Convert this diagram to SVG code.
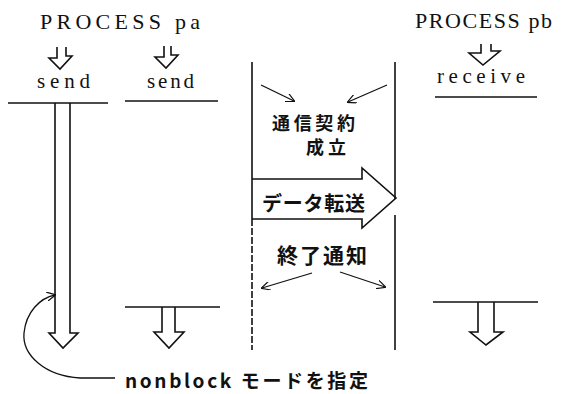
<svg xmlns="http://www.w3.org/2000/svg" width="574" height="394" viewBox="0 0 574 394">
<style>
.ln{fill:none;stroke:#111;stroke-width:1.6;stroke-linejoin:miter}
.thin{fill:none;stroke:#111;stroke-width:1.3}
.serif{font-family:"Liberation Serif","DejaVu Serif",serif;fill:#111}
.jp{font-family:"Noto Sans CJK JP","Noto Sans",sans-serif;fill:#111;font-weight:bold}
</style>
<defs>
<marker id="open" viewBox="0 0 10 10" refX="9" refY="5" markerWidth="9" markerHeight="9" orient="auto" markerUnits="userSpaceOnUse">
<path d="M0,0 L10,5 L0,10" fill="none" stroke="#111" stroke-width="1.3"/>
</marker>
</defs>
<rect width="574" height="394" fill="#fff"/>
<g id="process-pa">
<text class="serif" x="40" y="29" font-size="22" textLength="160" lengthAdjust="spacing">PROCESS pa</text>
</g>
<g id="process-pb">
<text class="serif" x="415" y="28" font-size="22" textLength="137" lengthAdjust="spacing">PROCESS pb</text>
</g>
<g id="send1">
<path class="ln" d="M57,47 V58 H49 L60,69 L72,56 H66 V47"/>
<text class="serif" x="37" y="88" font-size="21" textLength="53" lengthAdjust="spacing">send</text>
<line class="ln" x1="8" y1="103" x2="108" y2="103"/>
<path class="ln" d="M55,103 V333 H49 L63,348 L78,333 H70 V103"/>
</g>
<g id="send2">
<path class="ln" d="M164,46 V57 H155 L166,68 L178,55 H171 V46"/>
<text class="serif" x="147" y="88" font-size="21" textLength="47" lengthAdjust="spacing">send</text>
<line class="ln" x1="125" y1="101" x2="218" y2="101"/>
<line class="ln" x1="125" y1="307" x2="220" y2="307"/>
<path class="ln" d="M162,307 V332 H154 L169,348 L184,332 H175 V307"/>
</g>
<g id="receive">
<path class="ln" d="M481,44 V53 H469 L483,65 L500,51 H491 V44"/>
<text class="serif" x="437" y="83" font-size="21" textLength="88" lengthAdjust="spacing">receive</text>
<line class="ln" x1="435" y1="97" x2="537" y2="97"/>
<line class="ln" x1="433" y1="302" x2="538" y2="302"/>
<path class="ln" d="M478,302 V332 H470 L486,345 L503,332 H494 V302"/>
</g>
<g id="channel">
<line class="ln" x1="252" y1="62" x2="252" y2="219"/>
<line class="ln" x1="252" y1="219" x2="252" y2="350" stroke-dasharray="7 2"/>
<line class="ln" x1="395" y1="62" x2="395" y2="199"/>
<line class="ln" x1="395" y1="215" x2="395" y2="350"/>
</g>
<g id="contract">
<text class="jp" x="272" y="130" font-size="18" textLength="83" lengthAdjust="spacing">通信契約</text>
<text class="jp" x="306" y="154" font-size="18" textLength="40" lengthAdjust="spacing">成立</text>
</g>
<g id="data-transfer">
<path class="ln" d="M252,179 H362 V168 L396,198 L362,228 V219 H252"/>
<text class="jp" x="262" y="211" font-size="20" textLength="103" lengthAdjust="spacing">データ転送</text>
</g>
<g id="end-notice">
<text class="jp" x="277" y="263" font-size="21" textLength="90" lengthAdjust="spacing">終了通知</text>
</g>
<g id="note">
<text class="jp" x="125" y="388" font-size="19" font-weight="normal" textLength="243" lengthAdjust="spacing">nonblock モードを指定</text>
</g>
<g id="connectors">
<line class="thin" x1="261" y1="85" x2="294" y2="101" marker-end="url(#open)"/>
<line class="thin" x1="387" y1="85" x2="348" y2="102" marker-end="url(#open)"/>
<line class="thin" x1="312" y1="273" x2="262" y2="288" marker-end="url(#open)"/>
<line class="thin" x1="340" y1="272" x2="385" y2="287" marker-end="url(#open)"/>
<path class="thin" d="M115,378 H80 C45,376 22,355 24,333 C26,312 40,298 55,295" marker-end="url(#open)"/>
</g>
</svg>
